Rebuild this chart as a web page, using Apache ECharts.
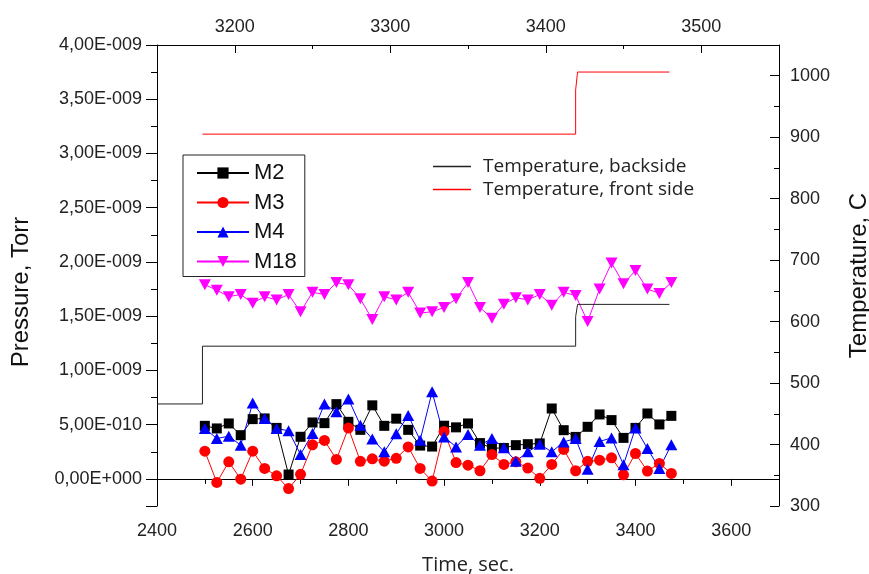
<!DOCTYPE html>
<html>
<head>
<meta charset="utf-8">
<script src="https://cdn.jsdelivr.net/npm/echarts@6/dist/echarts.min.js"></script>
<style>
  html, body { margin: 0; padding: 0; background: #fff; }
  #chartBox { width: 869px; height: 574px; }
</style>
</head>
<body>
<div id="chartBox"></div>
<script>
// time of each pressure reading, sec
const times = [2500, 2525, 2550, 2575, 2600, 2625, 2650, 2675, 2700, 2725,
  2750, 2775, 2800, 2825, 2850, 2875, 2900, 2925, 2950, 2975,
  3000, 3025, 3050, 3075, 3100, 3125, 3150, 3175, 3200, 3225,
  3250, 3275, 3300, 3325, 3350, 3375, 3400, 3425, 3450, 3475]

// partial pressures, Torr
const m2 = [4.89e-10, 4.65e-10, 5.11e-10, 4.03e-10, 5.51e-10, 5.57e-10, 4.70e-10, 0.40e-10, 3.88e-10, 5.20e-10,
  5.14e-10, 6.89e-10, 5.26e-10, 4.52e-10, 6.78e-10, 4.89e-10, 5.55e-10, 4.52e-10, 3.07e-10, 2.98e-10,
  4.90e-10, 4.75e-10, 5.11e-10, 3.30e-10, 2.83e-10, 2.85e-10, 3.11e-10, 3.20e-10, 3.27e-10, 6.49e-10,
  4.49e-10, 3.87e-10, 4.80e-10, 5.94e-10, 5.42e-10, 3.78e-10, 4.70e-10, 6.03e-10, 5.02e-10, 5.81e-10]
const m3 = [2.55e-10, -0.33e-10, 1.57e-10, -0.03e-10, 2.55e-10, 0.96e-10, 0.28e-10, -0.89e-10, 0.42e-10, 3.14e-10,
  3.54e-10, 1.79e-10, 4.68e-10, 1.62e-10, 1.85e-10, 1.63e-10, 1.90e-10, 2.95e-10, 0.96e-10, -0.20e-10,
  4.37e-10, 1.50e-10, 1.26e-10, 0.75e-10, 2.24e-10, 1.33e-10, 1.57e-10, 1.00e-10, 0.05e-10, 1.33e-10,
  2.72e-10, 0.75e-10, 1.62e-10, 1.72e-10, 1.94e-10, 0.37e-10, 2.34e-10, 0.72e-10, 1.42e-10, 0.50e-10]
const m4 = [4.65e-10, 3.72e-10, 3.94e-10, 3.11e-10, 7.00e-10, 5.57e-10, 4.65e-10, 4.43e-10, 2.25e-10, 4.19e-10,
  6.90e-10, 6.18e-10, 7.37e-10, 4.95e-10, 3.68e-10, 2.49e-10, 4.15e-10, 5.85e-10, 3.57e-10, 8.03e-10,
  3.87e-10, 2.95e-10, 4.10e-10, 3.11e-10, 3.72e-10, 2.86e-10, 1.63e-10, 2.49e-10, 3.20e-10, 2.49e-10,
  3.41e-10, 3.72e-10, 0.89e-10, 3.45e-10, 3.78e-10, 1.30e-10, 4.70e-10, 2.80e-10, 0.95e-10, 3.15e-10]
const m18 = [17.9e-10, 17.4e-10, 16.8e-10, 17.0e-10, 16.2e-10, 16.8e-10, 16.5e-10, 17.0e-10, 15.4e-10, 17.2e-10,
  17.0e-10, 18.1e-10, 17.9e-10, 16.6e-10, 14.7e-10, 16.8e-10, 16.5e-10, 17.2e-10, 15.3e-10, 15.4e-10,
  15.8e-10, 16.6e-10, 18.1e-10, 15.8e-10, 14.8e-10, 16.1e-10, 16.7e-10, 16.5e-10, 17.0e-10, 16.0e-10,
  17.2e-10, 16.9e-10, 14.5e-10, 17.5e-10, 19.9e-10, 18.0e-10, 19.2e-10, 17.5e-10, 17.1e-10, 18.1e-10]

// temperature steps, C
const backTimes = [2400, 2495, 3275, 3279, 3471]
const backTemp = [466, 560, 608, 628, 628]
const frontTimes = [2495, 3275, 3279, 3471]
const frontTemp = [905, 977, 1006, 1006]

const labelFont = 'Liberation Sans'

function pairs (xs, ys) {
  return xs.map(function (x, i) { return [x, ys[i]] })
}

// 4.00E-009 style, with a decimal comma
function sciLabel (v) {
  let s = v.toExponential(2).split('e')
  let exp = parseInt(s[1], 10)
  let sign = exp < 0 ? '-' : '+'
  let digits = String(Math.abs(exp)).padStart(3, '0')
  return s[0].replace('.', ',') + 'E' + sign + digits
}

function plainLabel (v) {
  return String(Math.round(v))
}

let myChart = echarts.init(document.getElementById('chartBox'))

let axisText = { color: '#222', fontFamily: labelFont, fontSize: 18 }
let blackLine = { lineStyle: { color: '#000', width: 1 } }

myChart.setOption({
  animation: false,
  grid: { left: 157, right: 90, top: 45, bottom: 68, containLabel: false, outerBoundsMode: 'none' },
  legend: [{
    data: ['M2', 'M3', 'M4', 'M18'],
    orient: 'vertical',
    left: 183,
    top: 155,
    padding: [7, 8, 4, 13],
    itemGap: 7.5,
    itemWidth: 52,
    itemHeight: 14,
    borderColor: '#222',
    borderWidth: 1,
    textStyle: { color: '#111', fontFamily: labelFont, fontSize: 22 }
  }, {
    data: [
      { name: 'Temperature, backside', icon: 'rect' },
      { name: 'Temperature, front side', icon: 'rect' }
    ],
    orient: 'vertical',
    left: 428,
    top: 152,
    itemGap: 4,
    itemWidth: 38,
    itemHeight: 1.5,
    textStyle: { color: '#222', fontFamily: 'Open Sans', fontSize: 19, padding: [0, 0, 0, 7] }
  }],
  xAxis: [{
    type: 'value',
    position: 'bottom',
    min: 2400,
    max: 3700,
    interval: 200,
    name: 'Time, sec.',
    nameLocation: 'middle',
    nameGap: 49,
    nameTextStyle: { color: '#222', fontFamily: 'Open Sans', fontSize: 20 },
    axisLine: blackLine,
    axisTick: { inside: false, length: 7, lineStyle: { color: '#000' } },
    minorTick: { show: true, splitNumber: 2, length: 5, lineStyle: { color: '#000' } },
    splitLine: { show: false },
    axisLabel: Object.assign({ margin: 16, showMaxLabel: false, formatter: plainLabel }, axisText)
  }, {
    type: 'value',
    position: 'top',
    min: 3150,
    max: 3550,
    splitNumber: 4,
    axisLine: blackLine,
    axisTick: { inside: true, length: 8, lineStyle: { color: '#000' } },
    minorTick: { show: true, splitNumber: 2, length: 4, lineStyle: { color: '#000' } },
    splitLine: { show: false },
    axisLabel: Object.assign({ margin: 9, showMinLabel: false, showMaxLabel: false, formatter: plainLabel }, axisText)
  }],
  yAxis: [{
    type: 'value',
    position: 'left',
    min: -2.5e-10,
    max: 4e-9,
    splitNumber: 8,
    name: 'Pressure, Torr',
    nameLocation: 'middle',
    nameGap: 124,
    nameTextStyle: { color: '#111', fontFamily: labelFont, fontSize: 24, padding: [0, 33, 0, 0] },
    axisLine: { show: true, lineStyle: { color: '#000', width: 1 } },
    axisTick: { show: true, inside: false, length: 11, lineStyle: { color: '#000' } },
    minorTick: { show: true, splitNumber: 2, length: 6, lineStyle: { color: '#000' } },
    splitLine: { show: false },
    axisLabel: Object.assign({ margin: 15, showMinLabel: false, formatter: sciLabel }, axisText)
  }, {
    type: 'value',
    position: 'right',
    min: 300,
    max: 1050,
    splitNumber: 7,
    name: 'Temperature, C',
    nameLocation: 'middle',
    nameGap: 68,
    nameRotate: 90,
    nameTextStyle: { color: '#111', fontFamily: labelFont, fontSize: 24 },
    axisLine: { show: true, lineStyle: { color: '#000', width: 1 } },
    axisTick: { show: true, inside: true, length: 9, lineStyle: { color: '#000' } },
    minorTick: { show: true, splitNumber: 2, length: 5, lineStyle: { color: '#000' } },
    splitLine: { show: false },
    axisLabel: Object.assign({ margin: 11, showMaxLabel: false, formatter: plainLabel }, axisText)
  }],
  series: [{
    name: 'M2',
    type: 'line',
    data: pairs(times, m2),
    symbol: 'rect',
    symbolSize: 10,
    color: '#000',
    lineStyle: { width: 1 }
  }, {
    name: 'M3',
    type: 'line',
    data: pairs(times, m3),
    symbol: 'circle',
    symbolSize: 11,
    color: '#ff0000',
    lineStyle: { width: 1 }
  }, {
    name: 'M4',
    type: 'line',
    data: pairs(times, m4),
    symbol: 'triangle',
    symbolSize: [12, 11],
    color: '#0000ff',
    lineStyle: { width: 1 }
  }, {
    name: 'M18',
    type: 'line',
    data: pairs(times, m18),
    symbol: 'triangle',
    symbolRotate: 180,
    symbolSize: [12, 11],
    color: '#ff00ff',
    lineStyle: { width: 1 }
  }, {
    name: 'Temperature, backside',
    type: 'line',
    yAxisIndex: 1,
    step: 'end',
    data: pairs(backTimes, backTemp),
    symbol: 'none',
    color: '#222',
    lineStyle: { width: 1 }
  }, {
    name: 'Temperature, front side',
    type: 'line',
    yAxisIndex: 1,
    step: 'end',
    data: pairs(frontTimes, frontTemp),
    symbol: 'none',
    color: '#ff0000',
    lineStyle: { width: 1 }
  }]
})
</script>
</body>
</html>
